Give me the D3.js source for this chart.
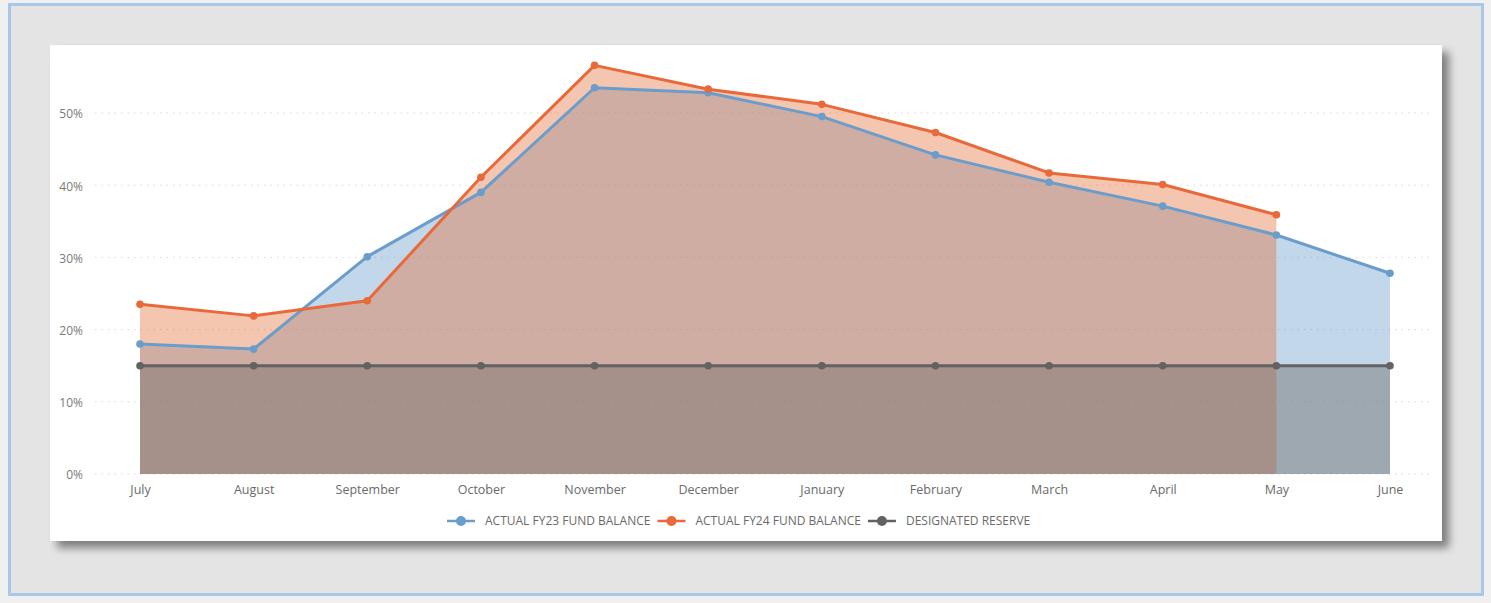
<!DOCTYPE html>
<html lang="en">
<head>
    <meta charset="UTF-8">
    <title>Fund Balance vs Designated Reserve</title>
    <script src="https://d3js.org/d3.v7.min.js"></script>
    <style>
        body {
            margin: 0;
            background: #f0f0f0;
            font-family: "Open Sans", "Noto Sans", sans-serif;
        }
        svg { display: block; }
    </style>
</head>
<body>
    <div id="chart"></div>

    <script>
        // chart data
        const months = ['July', 'August', 'September', 'October', 'November', 'December',
                        'January', 'February', 'March', 'April', 'May', 'June'];
        const fy23 = [0.180, 0.173, 0.301, 0.390, 0.535, 0.528, 0.495, 0.442, 0.404, 0.371, 0.331, 0.278];
        const fy24 = [0.235, 0.219, 0.240, 0.411, 0.566, 0.533, 0.512, 0.473, 0.417, 0.401, 0.359, null];
        const reserve = [0.15, 0.15, 0.15, 0.15, 0.15, 0.15, 0.15, 0.15, 0.15, 0.15, 0.15, 0.15];
        const yTicks = [0, 0.1, 0.2, 0.3, 0.4, 0.5];
        const seriesNames = ['ACTUAL FY23 FUND BALANCE', 'ACTUAL FY24 FUND BALANCE', 'DESIGNATED RESERVE'];

        const W = 1491, H = 603;
        const colors = ['#6a9dcc', '#e8693a', '#626262'];
        const fills = ['#699bcb', '#e1692d', '#706f6c'];
        const fillOpacity = [0.4, 0.38, 0.45];

        const svg = d3.select('#chart').append('svg')
            .attr('width', W)
            .attr('height', H);

        const defs = svg.append('defs');
        const shadow = defs.append('filter').attr('id', 'shadow')
            .attr('x', '-5%').attr('y', '-5%').attr('width', '110%').attr('height', '120%');
        shadow.append('feGaussianBlur').attr('in', 'SourceAlpha').attr('stdDeviation', 4);
        shadow.append('feOffset').attr('dx', 7).attr('dy', 7).attr('result', 'b');
        shadow.append('feComponentTransfer').append('feFuncA').attr('type', 'linear').attr('slope', 0.45);
        const merge = shadow.append('feMerge');
        merge.append('feMergeNode');
        merge.append('feMergeNode').attr('in', 'SourceGraphic');

        // outer frame + card
        svg.append('rect').attr('x', 9.5).attr('y', 4.5).attr('width', 1473).attr('height', 590)
            .attr('fill', '#e4e4e4').attr('stroke', '#a9c8e8').attr('stroke-width', 3);
        svg.append('rect').attr('x', 50).attr('y', 45).attr('width', 1392).attr('height', 496)
            .attr('fill', '#ffffff').attr('filter', 'url(#shadow)');

        // scales
        const x = d3.scalePoint().domain(months).range([140, 1390]);
        const y = d3.scaleLinear().domain([0, 0.6]).range([474, 474 - 433.2]);

        // gridlines
        svg.append('g')
            .selectAll('line')
            .data(yTicks)
            .join('line')
            .attr('x1', 95).attr('x2', 1432)
            .attr('y1', d => y(d)).attr('y2', d => y(d))
            .attr('stroke', '#d8d8d8')
            .attr('stroke-width', 1)
            .attr('stroke-dasharray', '1.5,5');

        // y axis labels
        const yAxis = svg.append('g')
            .attr('transform', 'translate(83,1)')
            .call(d3.axisLeft(y).tickValues(yTicks).tickFormat(d3.format('.0%')).tickSize(0).tickPadding(0));
        yAxis.select('.domain').remove();
        yAxis.selectAll('text')
            .attr('fill', '#7a7a7a')
            .style('font-family', '"Open Sans", sans-serif')
            .style('font-size', '12px');

        // x axis labels
        const xAxis = svg.append('g')
            .attr('transform', 'translate(0,485)')
            .call(d3.axisBottom(x).tickSize(0).tickPadding(0));
        xAxis.select('.domain').remove();
        xAxis.selectAll('text')
            .attr('fill', '#6a6a6a')
            .style('font-family', '"Open Sans", sans-serif')
            .style('font-size', '12.5px');

        const allSeries = [fy23, fy24, reserve];

        // areas
        allSeries.forEach((vals, i) => {
            const pts = months.map((m, k) => ({ m, v: vals[k] }));
            const area = d3.area()
                .defined(d => d.v != null)
                .x(d => x(d.m))
                .y0(y(0))
                .y1(d => y(d.v));
            svg.append('path')
                .datum(pts)
                .attr('d', area)
                .attr('fill', fills[i])
                .attr('fill-opacity', fillOpacity[i]);
        });

        // lines + markers
        allSeries.forEach((vals, i) => {
            const pts = months.map((m, k) => ({ m, v: vals[k] })).filter(d => d.v != null);
            const line = d3.line().x(d => x(d.m)).y(d => y(d.v));
            svg.append('path')
                .datum(pts)
                .attr('d', line)
                .attr('fill', 'none')
                .attr('stroke', colors[i])
                .attr('stroke-width', 3)
                .attr('stroke-linejoin', 'round');
            svg.append('g')
                .selectAll('circle')
                .data(pts)
                .join('circle')
                .attr('cx', d => x(d.m))
                .attr('cy', d => y(d.v))
                .attr('r', 3.8)
                .attr('fill', colors[i]);
        });

        // legend
        const legend = svg.append('g').attr('transform', 'translate(0,521)');
        let lx = 447;
        seriesNames.forEach((name, i) => {
            const item = legend.append('g').attr('transform', `translate(${lx},0)`);
            item.append('line')
                .attr('x1', 0).attr('x2', 28)
                .attr('stroke', colors[i]).attr('stroke-width', 2.5);
            item.append('circle')
                .attr('cx', 14).attr('r', 5)
                .attr('fill', colors[i]);
            const t = item.append('text')
                .attr('x', 38)
                .attr('dy', '0.35em')
                .attr('fill', '#6a6a6a')
                .style('font-family', '"Open Sans", sans-serif')
                .style('font-size', '12px')
                .text(name);
            lx += 38 + t.node().getComputedTextLength() + 7;
        });
    </script>
</body>
</html>
